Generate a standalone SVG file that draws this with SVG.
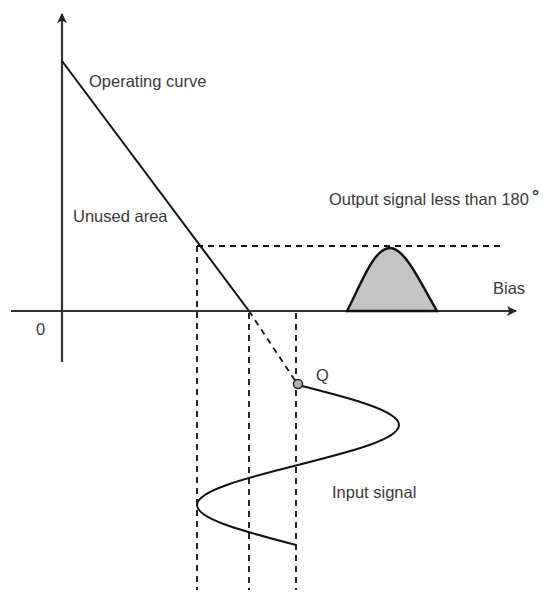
<svg xmlns="http://www.w3.org/2000/svg" width="543" height="592" viewBox="0 0 543 592">
<defs>
<marker id="arr" viewBox="0 0 10 10" refX="9" refY="5" markerWidth="10" markerHeight="10" markerUnits="userSpaceOnUse" orient="auto">
<path d="M0,0 L10,5 L0,10 L2.5,5 Z" fill="#222"/>
</marker>
<style>
.axis{stroke:#333;stroke-width:2.2;fill:none}
.line{stroke:#111;stroke-width:2;fill:none}
.dash{stroke:#111;stroke-width:1.8;fill:none;stroke-dasharray:6 5}
.lbl{font-family:"Liberation Sans",Arial,sans-serif;font-size:16.5px;fill:#3a3a3a}
</style>
</defs>
<rect width="543" height="592" fill="#fff"/>
<g id="connectors">
<line class="dash" x1="197" y1="246" x2="505" y2="246"/>
<line class="dash" x1="197" y1="246" x2="197" y2="590"/>
<line class="dash" x1="249" y1="313" x2="249" y2="590"/>
<line class="dash" x1="296" y1="313" x2="296" y2="590"/>
<line class="dash" x1="249" y1="311" x2="296" y2="382"/>
</g>
<g id="axes">
<line class="axis" x1="62" y1="362" x2="62" y2="14" marker-end="url(#arr)"/>
<line class="axis" x1="11" y1="311" x2="516" y2="311" marker-end="url(#arr)"/>
</g>
<g id="operating-curve">
<line class="line" x1="62" y1="61" x2="249" y2="311"/>
</g>
<g id="output-signal">
<path d="M347,311 C362,282 374,248 390,248 C405,248 420,282 437,311 Z" fill="#c4c4c4" stroke="#111" stroke-width="2.4"/>
</g>
<g id="input-signal">
<path class="line" d="M298,385 C349.7,398 399,410.5 399,425 C399,439.5 349.7,452 298,465 C246.3,478 197,490.5 197,505 C197,519.5 246.3,532 296,545"/>
</g>
<g id="q-point">
<circle cx="298" cy="384" r="4.5" fill="#b0b0b0" stroke="#222" stroke-width="1.5"/>
<text class="lbl" x="316" y="381">Q</text>
</g>
<g id="labels">
<text class="lbl" x="89" y="87">Operating curve</text>
<text class="lbl" x="73" y="222">Unused area</text>
<text class="lbl" x="329" y="205">Output signal less than 180<tspan dx="3" font-weight="bold" font-size="18" dy="-3">°</tspan></text>
<text class="lbl" x="493" y="294">Bias</text>
<text class="lbl" x="36" y="335">0</text>
<text class="lbl" x="332" y="498">Input signal</text>
</g>
</svg>
